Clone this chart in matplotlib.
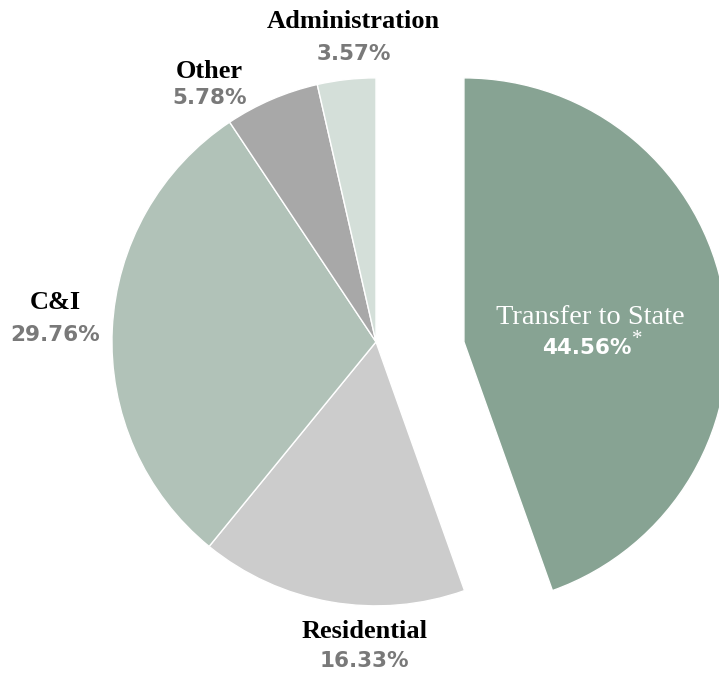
import matplotlib.pyplot as plt

# data
labels = ['Transfer to State', 'Residential', 'C&I', 'Other', 'Administration']
shares = [44.56, 16.33, 29.76, 5.78, 3.57]
pct_text = ['44.56%', '16.33%', '29.76%', '5.78%', '3.57%']
colors = ['#87a393', '#cccccc', '#b1c2b8', '#a8a8a8', '#d4dfd9']

fig = plt.figure(figsize=(7.19, 6.79), dpi=100)
ax = fig.add_axes([0, 0, 1, 1])

wedges, _ = ax.pie(shares, colors=colors, startangle=90, counterclock=False,
                   radius=1.0, wedgeprops=dict(edgecolor='white', linewidth=1))
# the transfer slice is pulled out sideways
wedges[0].set_center((0.333, 0))

ax.set_xlim(-1.424, 1.299)
ax.set_ylim(-1.277, 1.295)
ax.set_aspect('auto')
ax.axis('off')

name_font = dict(family='Liberation Serif', fontweight='bold', fontsize=19)
pct_font = dict(family='DejaVu Sans', fontweight='bold', fontsize=15.5, color='#797979')

# outside labels: (x, y_name, y_pct)
spots = {
    'Administration': (-0.085, 1.215, 1.09),
    'Other': (-0.63, 1.023, 0.924),
    'C&I': (-1.216, 0.148, 0.027),
    'Residential': (-0.045, -1.098, -1.21),
}
for name, pct in zip(labels, pct_text):
    if name in spots:
        x, yn, yp = spots[name]
        ax.text(x, yn, name, ha='center', va='center', color='black', **name_font)
        ax.text(x, yp, pct, ha='center', va='center', **pct_font)

ax.text(0.811, 0.091, labels[0], ha='center', va='center', color='white',
        family='Liberation Serif', fontsize=20.5)
ax.text(0.799, -0.023, pct_text[0], ha='center', va='center', color='white',
        family='DejaVu Sans', fontweight='bold', fontsize=15.5)
ax.text(0.968, 0.01, '*', ha='left', va='center', color='white',
        family='Liberation Serif', fontsize=15)

fig.savefig('out.png', dpi=100)
